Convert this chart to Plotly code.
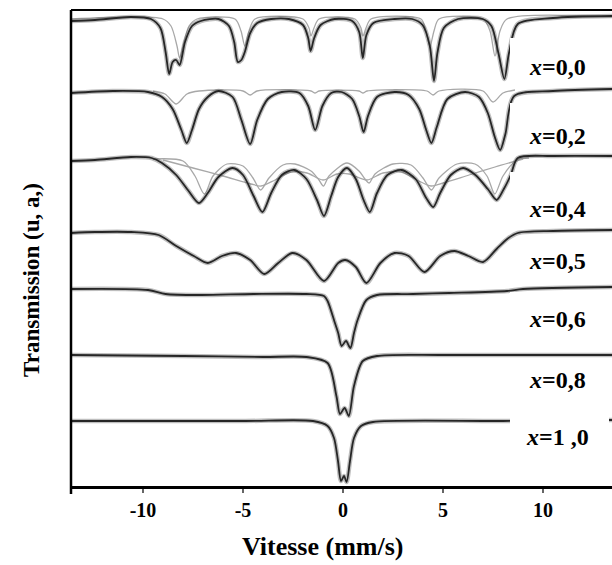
import plotly.graph_objects as go

# ---------------------------------------------------------------
# Mössbauer spectra of the series, x = 0.0 ... 1.0
# velocity in mm/s, transmission in arbitrary units (stacked)
# ---------------------------------------------------------------

# x = 0,0 : envelope + second sextet
v_x00 = [-13.6, -12.4, -10.6, -9.6, -9.13, -8.87, -8.69, -8.52, -8.34, -8.17, -7.90, -7.55, -7.11,
         -6.23, -5.70, -5.44, -5.26, -5.08, -4.91, -4.64, -4.29, -3.59, -2.71, -2.00, -1.74, -1.62,
         -1.44, -1.12, -0.42, 0.46, 0.81, 0.99, 1.17, 1.52, 2.58, 3.46, 3.98, 4.34, 4.55, 4.72, 5.04,
         5.75, 6.98, 7.42, 7.77, 8.07, 8.30, 8.74, 10.5, 13.5]
t_x00 = [465, 466, 469, 467, 458, 434, 412, 424, 426, 421, 444, 460, 465,
         467, 460, 444, 424, 426, 434, 453, 463, 467, 467, 461, 448, 435,
         448, 461, 467, 465, 454, 428, 451, 463, 467, 467, 461, 440, 405, 433, 458,
         467, 467, 460, 433, 407, 433, 462, 468, 470]
v_x00_b = [-13.6, -9.0, -8.6, -8.3, -8.17, -8.0, -7.7, -7.3, -5.4, -5.1, -4.91, -4.7, -4.4, -2.0,
           -1.7, -1.6, -1.45, -1.2, 0.6, 0.9, 1.0, 1.15, 1.4, 3.9, 4.15, 4.35, 4.55, 4.8, 7.0, 7.35,
           7.6, 7.85, 8.2, 13.5]
t_x00_b = [467, 467, 460, 440, 428, 440, 460, 467, 467, 455, 440, 455, 467, 467,
           458, 450, 458, 467, 467, 458, 450, 458, 467, 467, 455, 440, 455, 467, 467, 455,
           430, 455, 467, 469]

# x = 0,2
v_x02 = [-13.6, -11.5, -9.75, -9.05, -8.52, -8.08, -7.81, -7.55, -7.20, -6.76, -6.23, -5.52, -5.08,
         -4.64, -4.29, -3.76, -3.06, -2.18, -1.74, -1.39, -1.03, -0.59, -0.07, 0.46, 0.81, 1.03,
         1.25, 1.70, 2.58, 3.28, 3.81, 4.16, 4.42, 4.69, 5.22, 6.10, 6.80, 7.24, 7.59, 7.86, 8.12,
         8.56, 10.5, 13.5]
t_x02 = [393, 395, 394, 389, 377, 356, 343, 356, 377, 389, 395, 389, 366,
         342, 366, 387, 394, 393, 380, 356, 380, 393, 394, 387, 370, 354,
         370, 389, 394, 391, 377, 356, 343, 359, 387, 394, 389, 373, 349, 336, 352,
         390, 395, 397]
v_x02_b = [-9.5, -8.9, -8.34, -7.8, -7.2, -5.0, -4.64, -4.3, -1.6, -1.4, -1.2, 0.8, 1.0, 1.2,
           4.2, 4.5, 4.8, 7.0, 7.5, 8.0, 8.6]
t_x02_b = [395, 392, 382, 392, 395, 395, 391, 395, 395, 393, 395, 395, 393, 395,
           395, 391, 395, 395, 384, 393, 396]

# x = 0,4 : envelope + two sub-spectra
v_x04 = [-13.6, -12.4, -10.6, -9.57, -9.05, -8.34, -7.72, -7.20, -6.76, -6.23, -5.52, -5.00, -4.47,
         -4.03, -3.59, -3.06, -2.44, -1.83, -1.30, -0.95, -0.59, -0.24, 0.20, 0.64, 1.03, 1.34,
         1.70, 2.22, 2.93, 3.63, 4.16, 4.51, 4.86, 5.39, 6.01, 6.62, 7.24, 7.68, 8.04, 8.39, 8.74,
         10.5, 13.5]
t_x04 = [325, 326, 329, 328, 323, 311, 295, 283, 293, 309, 318, 311, 290,
         274, 293, 311, 316, 307, 286, 270, 290, 309, 318, 307, 286, 274,
         293, 311, 316, 307, 288, 279, 293, 311, 318, 311, 297, 286, 297, 311, 328,
         330, 330]
v_x04_a = [-9.5, -8.0, -7.4, -6.93, -6.5, -5.8, -5.0, -4.5, -4.12, -3.7, -3.0, -2.4, -1.6, -1.2,
           -0.98, -0.7, 0.2, 0.8, 1.1, 1.31, 1.6, 2.5, 3.4, 4.0, 4.42, 4.8, 5.7, 6.6, 7.2, 7.59,
           8.0, 8.7, 9.3]
t_x04_a = [327, 325, 310, 292, 310, 322, 320, 308, 296, 308, 321, 322, 315, 306,
           300, 310, 323, 315, 307, 303, 312, 322, 321, 308, 296, 308, 322, 322, 310, 292,
           310, 326, 328]
v_x04_b = [-9.0, -7.5, -6.0, -4.6, -4.1, -3.4, -2.6, -1.8, -1.0, -0.3, 0.3, 1.2, 2.0, 2.9, 3.7,
           4.4, 5.0, 6.3, 7.6, 9.0]
t_x04_b = [326, 318, 310, 302, 300, 306, 314, 313, 306, 312, 312, 306, 313, 314, 306,
           300, 303, 311, 319, 327]

# x = 0,5
v_x05 = [-13.6, -12.4, -10.6, -9.22, -8.34, -7.46, -6.76, -6.05, -5.35, -4.64, -3.94, -3.24, -2.53,
         -1.83, -0.95, -0.24, 0.11, 0.64, 1.17, 1.87, 2.58, 3.28, 4.07, 4.86, 5.57, 6.27, 7.0,
         7.68, 8.21, 8.74, 10.5, 13.5]
t_x05 = [253, 254, 254, 251, 240, 230, 223, 230, 233, 226, 212, 223, 233,
         226, 205, 223, 226, 219, 203, 223, 233, 230, 214, 230, 235, 230, 224,
         237, 247, 253, 255, 256]

# x = 0,6
v_x06 = [-13.6, -9.75, -8.87, -7.11, -4.47, -1.83, -0.95, -0.77, -0.42, -0.24, -0.07, 0.15, 0.37,
         0.55, 0.73, 1.17, 1.70, 3.5, 5.3, 8.2, 9.0, 13.5]
t_x06 = [197, 196, 192, 191, 192, 192, 190, 185, 164, 153, 140, 145, 138,
         153, 166, 186, 191, 192, 193, 195, 197, 199]

# x = 0,8
v_x08 = [-13.6, -8.0, -4.0, -1.83, -0.77, -0.33, -0.15, 0.08, 0.29, 0.55, 0.99, 1.7, 5.0, 13.5]
t_x08 = [131, 130, 129, 129, 123, 90, 72, 78, 70, 100, 125, 130, 131, 131]

# x = 1,0
v_x10 = [-13.6, -5.0, -1.5, -0.77, -0.45, -0.25, -0.1, 0.05, 0.18, 0.35, 0.55, 0.9, 1.5, 8.0, 13.5]
t_x10 = [65, 65, 65, 60, 48, 25, 5, 10, 4, 25, 48, 60, 64, 65, 66]

# composition labels and their vertical position (u.a.)
labels = ["0,0", "0,2", "0,4", "0,5", "0,6", "0,8", "1 ,0"]
label_pos = [419, 350, 277, 225, 167, 106, 49]
# white panels behind the labels (bottom, top) in u.a.
panel_lo = [404, 336, 262, 206, 141, 81, 16]
panel_hi = [448, 383, 314, 246, 194, 124, 71]

tick_vals = [-10, -5, 0, 5, 10]
tick_text = ["-10", "-5", "0", "5", "10"]

envelopes = [(v_x00, t_x00), (v_x02, t_x02), (v_x04, t_x04), (v_x05, t_x05),
             (v_x06, t_x06), (v_x08, t_x08), (v_x10, t_x10)]
components = [(v_x00_b, t_x00_b), (v_x02_b, t_x02_b), (v_x04_a, t_x04_a), (v_x04_b, t_x04_b)]

SERIF = "Liberation Serif, Times New Roman, serif"

fig = go.Figure()

# sub-spectra (thin grey lines)
for v, t in components:
    fig.add_trace(go.Scatter(x=v, y=t, mode="lines",
                             line=dict(color="#a8a8a8", width=1.3, shape="spline", smoothing=0.8),
                             hoverinfo="skip", showlegend=False))

# measured envelopes: soft halo for the scatter of points, then the dark line
for v, t in envelopes:
    fig.add_trace(go.Scatter(x=v, y=t, mode="lines",
                             line=dict(color="rgba(70,70,70,0.35)", width=4.5, shape="spline", smoothing=0.8),
                             hoverinfo="skip", showlegend=False))
    fig.add_trace(go.Scatter(x=v, y=t, mode="lines",
                             line=dict(color="#262626", width=1.8, shape="spline", smoothing=0.8),
                             hoverinfo="skip", showlegend=False))

shapes = []
# white panels holding the composition labels
for lo, hi in zip(panel_lo, panel_hi):
    shapes.append(dict(type="rect", xref="x", yref="y", x0=8.35, x1=13.3, y0=lo, y1=hi,
                       fillcolor="white", line=dict(width=0), layer="above"))
# top border and left spine (the spine runs a little below the x axis)
shapes.append(dict(type="line", xref="paper", yref="paper", x0=0, x1=1, y0=1, y1=1,
                   line=dict(color="black", width=2.2), layer="above"))
shapes.append(dict(type="line", xref="paper", yref="paper", x0=0, x1=0, y0=-0.017, y1=1,
                   line=dict(color="black", width=2.5), layer="above"))

annotations = []
for lab, y in zip(labels, label_pos):
    annotations.append(dict(x=9.2 if lab != "1 ,0" else 9.05, y=y, xref="x", yref="y",
                            text="<b><i>x</i>=" + lab + "</b>", showarrow=False,
                            xanchor="left", yanchor="middle",
                            font=dict(family=SERIF, size=24, color="black")))
annotations.append(dict(x=0.464, y=-0.128, xref="paper", yref="paper",
                        text="<b>Vitesse (mm/s)</b>", showarrow=False,
                        xanchor="center", yanchor="middle",
                        font=dict(family=SERIF, size=26, color="black")))
annotations.append(dict(x=-0.072, y=0.433, xref="paper", yref="paper",
                        text="<b>Transmission (u, a,)</b>", showarrow=False, textangle=-90,
                        xanchor="center", yanchor="middle",
                        font=dict(family=SERIF, size=23, color="black")))

fig.update_layout(
    width=612, height=565,
    margin=dict(l=71, r=0, t=10, b=79),
    paper_bgcolor="white", plot_bgcolor="white",
    shapes=shapes, annotations=annotations,
    xaxis=dict(range=[-13.6, 13.45], showgrid=False, zeroline=False,
               showline=True, linecolor="black", linewidth=2.5,
               tickvals=tick_vals, ticktext=["<b>" + s + "</b>" for s in tick_text],
               ticks="outside", ticklen=4, tickwidth=1.5, tickcolor="#666",
               tickfont=dict(family=SERIF, size=20, color="black")),
    yaxis=dict(range=[0, 476], showgrid=False, zeroline=False, showline=False,
               showticklabels=False, ticks=""),
)

fig.write_html("out.html")
